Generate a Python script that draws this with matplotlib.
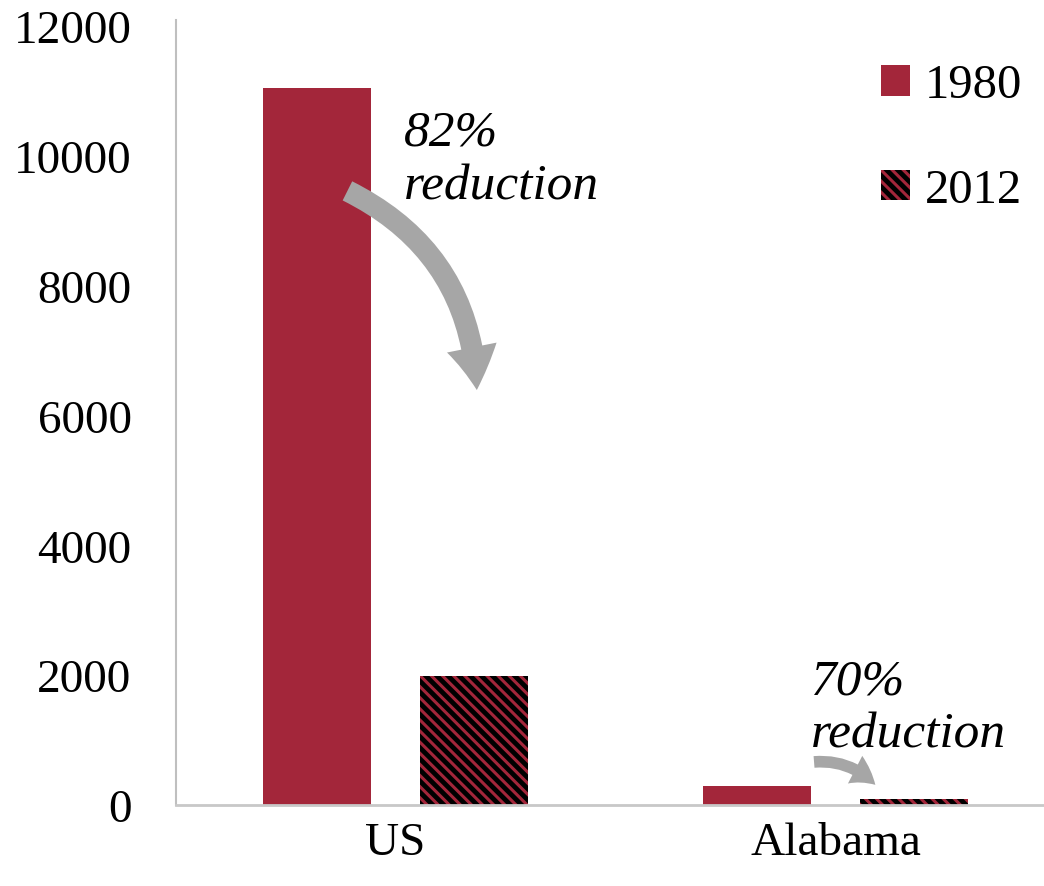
import matplotlib
matplotlib.use("Agg")
from matplotlib import pyplot as plt
from matplotlib.patches import FancyArrowPatch
import numpy as np

regions = ["US", "Alabama"]
years = ["1980", "2012"]
vals_1980 = [11050, 300]
vals_2012 = [1990, 90]
y_ticks = [0, 2000, 4000, 6000, 8000, 10000, 12000]
notes = ["82%\nreduction", "70%\nreduction"]

red = "#a3263a"
grey = "#a6a6a6"
plt.rcParams['font.family'] = ['Liberation Serif', 'DejaVu Serif']
plt.rcParams['hatch.linewidth'] = 2.2

fig = plt.figure(figsize=(10.44, 8.87), dpi=100)
ax = fig.add_axes([0.1686, 0.0913, 0.8314, 0.8855])

x = np.arange(len(regions))
w = 0.245
off = 0.178
ax.bar(x - off, vals_1980, w, color=red, label=years[0])
ax.bar(x + off, vals_2012, w, facecolor="black", edgecolor=red, hatch="\\\\\\",
       linewidth=0, label=years[1])

ax.set_xlim(-0.499, 1.474)
ax.set_ylim(0, 12100)
ax.set_yticks(y_ticks)
ax.set_yticklabels([str(v) for v in y_ticks], fontsize=34)
ax.set_xticks(x)
ax.set_xticklabels(regions, fontsize=34)
ax.tick_params(axis="x", length=0, pad=12)
ax.tick_params(axis="y", length=0, pad=32)

for s in ["top", "right"]:
    ax.spines[s].set_visible(False)
ax.spines["left"].set_color("#bfbfbf")
ax.spines["left"].set_linewidth(1.5)
ax.spines["bottom"].set_color("#c8c8c8")
ax.spines["bottom"].set_linewidth(2)

# annotations
ax.text(0.02, 9950, notes[0], fontsize=37, style="italic", va="center", ha="left",
        linespacing=1.2)
ax.text(0.945, 1500, notes[1], fontsize=37, style="italic", va="center", ha="left",
        linespacing=1.2)

arr1 = FancyArrowPatch((-0.115, 9480), (0.185, 6350), connectionstyle="arc3,rad=-0.3",
                       arrowstyle="simple,head_width=2.6,head_length=2.2,tail_width=1.1",
                       mutation_scale=14, color=grey, lw=0)
ax.add_patch(arr1)
arr2 = FancyArrowPatch((0.945, 660), (1.095, 280), connectionstyle="arc3,rad=-0.25",
                       arrowstyle="simple,head_width=1.6,head_length=1.3,tail_width=0.6",
                       mutation_scale=14, color=grey, lw=0)
ax.add_patch(arr2)

leg = ax.legend(loc="upper right", bbox_to_anchor=(1.025, 1.0), frameon=False, fontsize=35,
                handlelength=0.6, handleheight=0.6, handletextpad=0.3, labelspacing=1.25)

fig.savefig("out.png", dpi=100)
